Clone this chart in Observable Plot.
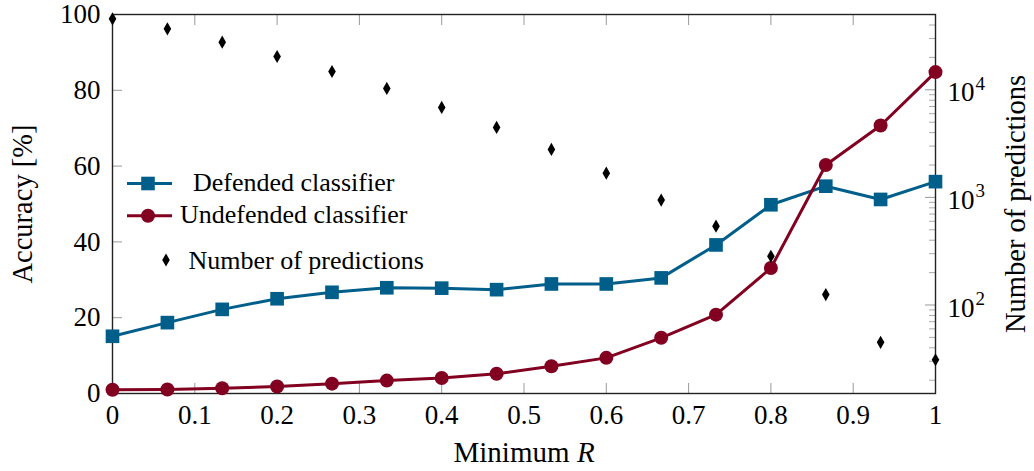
<!DOCTYPE html>
<html><head><meta charset="utf-8">
<script src="https://cdn.jsdelivr.net/npm/d3@7"></script>
<script src="https://cdn.jsdelivr.net/npm/@observablehq/plot@0.6"></script>
<style>
body{margin:0;background:#fff;}
#wrap{position:relative;width:1034px;height:471px;font-family:'Liberation Serif','Times New Roman',serif;}
#wrap text{font-family:'Liberation Serif','Times New Roman',serif !important;}
#legend{position:absolute;left:0;top:0;pointer-events:none;}
</style></head><body><div id="wrap"></div>
<script>
// ---- data ----
const minR = [0, 0.0667, 0.1333, 0.2, 0.2667, 0.3333, 0.4, 0.4667, 0.5333, 0.6, 0.6667, 0.7333, 0.8, 0.8667, 0.9333, 1];
const defended = [15.1, 18.7, 22.2, 25.0, 26.7, 27.9, 27.8, 27.4, 28.9, 28.9, 30.5, 39.2, 49.8, 54.7, 51.2, 55.9];
const undefended = [1.0, 1.05, 1.4, 1.85, 2.6, 3.4, 4.1, 5.2, 7.2, 9.4, 14.7, 20.8, 33.1, 60.3, 70.7, 84.8];
const predictions = [45700, 36900, 27700, 20400, 14800, 10300, 6860, 4470, 2790, 1680, 944, 540, 284, 125, 45, 31];
const xTicks = [0, 0.1, 0.2, 0.3, 0.4, 0.5, 0.6, 0.7, 0.8, 0.9, 1];
const yTicks = [0, 20, 40, 60, 80, 100];
const predMajor = [100, 1000, 10000];
const predDomain = [15.05, 50100];
const legendLabels = ["Defended classifier", "Undefended classifier", "Number of predictions"];

const blue = "#005e8b", red = "#820020";
const serifFont = "'Liberation Serif', 'Times New Roman', serif";

const predScale = d3.scaleLog().domain(predDomain).range([0, 100]);
const rows = minR.map((r, i) => ({r, def: defended[i], und: undefended[i], pred: predictions[i], predY: predScale(predictions[i])}));
const predMinor = [];
for (const dec of [10, 100, 1000, 10000]) for (let m = 2; m <= 9; m++) {
  const v = m * dec; if (v >= predDomain[0] && v <= predDomain[1]) predMinor.push(v);
}

const chart = Plot.plot({
  width: 1034, height: 471,
  marginLeft: 112, marginRight: 99, marginTop: 14, marginBottom: 78,
  x: {domain: [0, 1]},
  y: {domain: [0, 100]},
  style: {fontFamily: serifFont, fontSize: "27px", color: "#000", background: "#fff", overflow: "visible"},
  marks: [
    Plot.axisX({ticks: xTicks, tickSize: 0, tickPadding: 11, tickFormat: d => String(+d.toFixed(1)), label: null}),
    Plot.axisX({ticks: xTicks, tickSize: -10, tickFormat: () => "", label: null, stroke: "#999"}),
    Plot.axisX({anchor: "top", ticks: xTicks, tickSize: -10, tickFormat: () => "", label: null, stroke: "#999"}),
    Plot.axisY({ticks: yTicks, tickSize: 0, tickPadding: 12, label: null}),
    Plot.axisY({ticks: yTicks, tickSize: -10, tickFormat: () => "", label: null, stroke: "#999"}),
    Plot.axisY({anchor: "right", ticks: predMajor.map(v => predScale(v)), tickSize: -11, tickFormat: () => "", label: null, stroke: "#999"}),
    Plot.axisY({anchor: "right", ticks: predMinor.map(v => predScale(v)), tickSize: -7, tickFormat: () => "", label: null, stroke: "#aaa"}),
    Plot.text(predMajor, {y: v => predScale(v), frameAnchor: "right", text: () => "10", textAnchor: "start", lineAnchor: "middle", dx: 12, dy: 3, fontSize: 27}),
    Plot.text(predMajor, {y: v => predScale(v), frameAnchor: "right", text: v => String(Math.round(Math.log10(v))), textAnchor: "start", lineAnchor: "middle", dx: 40, dy: -6, fontSize: 19}),
    Plot.frame({stroke: "#222", strokeWidth: 1.4}),
    Plot.line(rows, {x: "r", y: "def", stroke: blue, strokeWidth: 3}),
    Plot.dot(rows, {x: "r", y: "def", symbol: "square", r: 7.7, fill: blue}),
    Plot.line(rows, {x: "r", y: "und", stroke: red, strokeWidth: 3}),
    Plot.dot(rows, {x: "r", y: "und", r: 7, fill: red}),
    Plot.dot(rows, {x: "r", y: "predY", symbol: "diamond", r: 4, fill: "#000"}),
    Plot.text(["Accuracy [%]"], {frameAnchor: "left", rotate: -90, textAnchor: "middle", lineAnchor: "middle", dx: -90, fontSize: 28.5}),
    Plot.text(["Number of predictions"], {frameAnchor: "right", rotate: -90, textAnchor: "middle", lineAnchor: "middle", dx: 80, fontSize: 28.5}),
    Plot.text(["Minimum"], {frameAnchor: "bottom", textAnchor: "end", lineAnchor: "top", dx: 45.5, dy: 48, fontSize: 29}),
    Plot.text(["R"], {frameAnchor: "bottom", textAnchor: "start", lineAnchor: "top", dx: 53, dy: 48, fontSize: 29, fontStyle: "italic"})
  ]
});
chart.setAttribute("font-family", serifFont);
const wrap = document.getElementById("wrap");
wrap.appendChild(chart);

// legend overlay
const lg = d3.select(wrap).append("svg").attr("id", "legend").attr("width", 1034).attr("height", 471)
  .attr("font-family", serifFont).style("font-size", "26px");
lg.append("line").attr("x1", 127).attr("x2", 172).attr("y1", 183.5).attr("y2", 183.5).attr("stroke", blue).attr("stroke-width", 3);
lg.append("rect").attr("x", 148 - 6.8).attr("y", 183.5 - 6.8).attr("width", 13.6).attr("height", 13.6).attr("fill", blue);
lg.append("text").attr("x", 193).attr("y", 191).text(legendLabels[0]);
lg.append("line").attr("x1", 127).attr("x2", 172).attr("y1", 215.7).attr("y2", 215.7).attr("stroke", red).attr("stroke-width", 3);
lg.append("circle").attr("cx", 148).attr("cy", 215.7).attr("r", 7).attr("fill", red);
lg.append("text").attr("x", 180).attr("y", 223).text(legendLabels[1]);
lg.append("path").attr("transform", "translate(166,260)").attr("d", d3.symbol(d3.symbolDiamond, 50)()).attr("fill", "#000");
lg.append("text").attr("x", 188.5).attr("y", 268.5).text(legendLabels[2]);
</script></body></html>
